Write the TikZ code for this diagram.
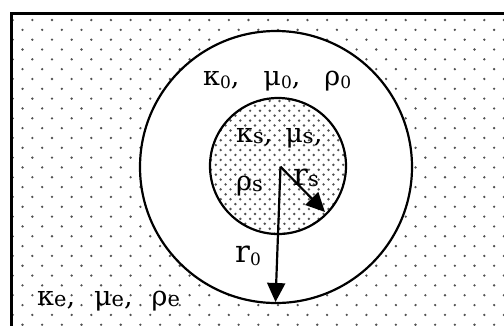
\documentclass[tikz,border=0pt]{standalone}
\usepackage{fontspec}
\setmainfont{DejaVu Serif}
\usetikzlibrary{arrows.meta}
\newcommand\sbd[1]{\raisebox{-3pt}{\fontsize{17}{17}\selectfont #1}}
\newcommand\sbl[1]{\raisebox{-1.5pt}{\fontsize{21}{21}\selectfont #1}}
\tikzset{
  lbl/.style={font=\fontsize{27}{27}\selectfont, inner sep=0pt, anchor=base west},
  rlbl/.style={font=\fontsize{31}{31}\selectfont, inner sep=0pt, anchor=base west},
  ring/.style={circle, draw, line width=2.2pt, inner sep=0pt},
  radius arrow/.style={line width=2.2pt, -{Triangle[length=19pt,width=18pt]}},
  dotc/.style={fill=black!68},
}
\begin{document}
\begin{tikzpicture}[x=1pt,y=-1pt]
\useasboundingbox (0,0) rectangle (504,325);
% outer dotted medium
\begin{scope}
\clip (11,13) rectangle (504,325);
\foreach \j in {0,...,31}{
  \pgfmathsetmacro\yy{20+9.83*\j}
  \pgfmathsetmacro\xo{12.7+9.825*mod(\j,2)}
  \foreach \k in {0,...,25}{
    \fill[dotc] ({\xo+19.65*\k},\yy) circle (1.3pt);
  }
}
\end{scope}
% rectangle border (left and top)
\draw[line width=3pt] (11,330) -- (11,13) -- (510,13);
% outer ring, white
\fill[white] (276,167) circle (136pt);
% inner dotted sphere
\begin{scope}
\clip (278,166) circle (68pt);
\foreach \j in {0,...,30}{
  \pgfmathsetmacro\yy{96+4.915*\j}
  \pgfmathsetmacro\xo{206+4.9*mod(\j,2)}
  \foreach \k in {0,...,15}{
    \fill[dotc] ({\xo+9.8*\k},\yy) circle (1.35pt);
  }
}
\end{scope}
\node[ring, minimum size=272pt] (outer) at (276,167) {};
\node[ring, minimum size=136pt] (inner) at (278,166) {};
\coordinate (c) at (280.5,166.7);
\coordinate (r0end) at (275.5,302);
\coordinate (rsend) at (325,212);
\draw[radius arrow] (c) -- (r0end);
\draw[radius arrow] (c) -- (rsend);
% labels
\node[lbl] (t0) at (203,85) {κ\sbd{0},\hspace{24pt}μ\sbd{0},\hspace{24pt}ρ\sbd{0}};
\node[lbl] (ts1) at (236,142) {κ\sbl{s},\hspace{13pt}μ\sbl{s},};
\node[lbl] (ts2) at (236,190) {ρ\sbl{s}};
\node[rlbl] (trs) at (293,185) {r\sbl{s}};
\node[rlbl] (tr0) at (235,262) {r\sbd{0}};
\node[lbl] (te) at (37,305) {κ\sbl{e},\hspace{19pt}μ\sbl{e},\hspace{19pt}ρ\sbl{e}};
\end{tikzpicture}
\end{document}
